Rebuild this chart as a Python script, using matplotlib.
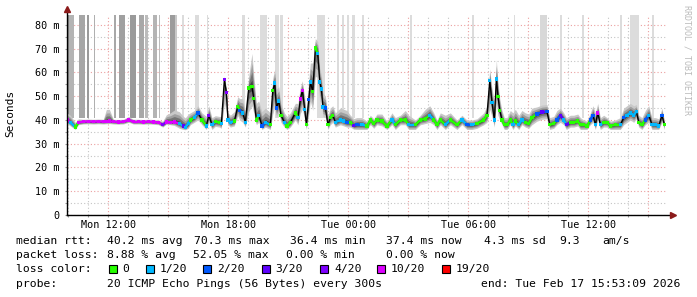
import matplotlib
matplotlib.use('Agg')
import matplotlib.pyplot as plt
import matplotlib.dates as mdates
from matplotlib.ticker import MultipleLocator, FuncFormatter
from matplotlib.patches import Rectangle
from matplotlib.collections import LineCollection
import numpy as np
import pandas as pd

# sample times, hours after Mon 2026-02-16 00:00
hours = [9.93, 10.1, 10.35, 10.5, 10.75, 11.0, 11.25, 11.5, 11.75, 11.9, 12.05, 12.25, 12.5, 12.75,
         13.02, 13.25, 13.5, 13.75, 14.0, 14.25, 14.5, 14.72, 14.9, 15.1, 15.3, 15.55, 15.75, 15.85,
         16.0, 16.1, 16.3, 16.48, 16.68, 16.9, 17.02, 17.18, 17.35, 17.55, 17.65, 17.8, 17.9, 17.98,
         18.1, 18.3, 18.47, 18.57, 18.72, 18.85, 19.02, 19.18, 19.27, 19.4, 19.52, 19.68, 19.85,
         20.1, 20.22, 20.32, 20.4, 20.52, 20.63, 20.8, 20.93, 21.1, 21.35, 21.48, 21.6, 21.7, 21.82,
         21.9, 22.02, 22.1, 22.22, 22.35, 22.47, 22.57, 22.65, 22.73, 22.85, 22.98, 23.1, 23.22,
         23.35, 23.6, 23.77, 23.93,
         24.1, 24.27, 24.43, 24.68, 24.93, 25.1, 25.27, 25.43, 25.68, 25.93, 26.18, 26.35, 26.6,
         26.85, 27.02, 27.35, 27.6, 27.85, 28.07, 28.27, 28.43, 28.6, 28.85, 29.1, 29.43, 29.68,
         29.93, 30.18, 30.43, 30.77, 30.93, 31.07, 31.18, 31.3, 31.4, 31.48, 31.57, 31.68, 31.8,
         31.93, 32.1, 32.23, 32.35, 32.52, 32.68, 32.85, 33.02, 33.18, 33.43, 33.68, 33.93, 34.07,
         34.27, 34.43, 34.6, 34.77, 34.9, 35.1, 35.27, 35.47, 35.6, 35.77, 35.93, 36.1, 36.23,
         36.35, 36.47, 36.6, 36.77, 36.93, 37.1, 37.35, 37.6, 37.77, 37.93, 38.1, 38.27, 38.4,
         38.52, 38.68, 38.85, 39.02, 39.18, 39.35, 39.52, 39.68, 39.8]

median_ms = [40.0, 39.0, 37.0, 39.0, 39.3, 39.4, 39.3, 39.4, 39.3, 39.4, 39.5, 39.3, 39.2, 39.3,
             40.0, 39.3, 39.3, 39.2, 39.3, 39.2, 39.0, 38.0, 39.2, 39.0, 39.2, 38.5, 37.5, 36.9,
             38.5, 40.0, 41.0, 43.0, 40.0, 37.5, 42.0, 38.0, 39.3, 39.0, 38.5, 57.0, 51.5, 40.0,
             39.0, 39.5, 45.8, 44.0, 43.0, 39.0, 53.5, 54.0, 49.0, 40.0, 42.0, 37.5, 39.0,
             38.0, 52.5, 55.5, 45.0, 48.0, 42.0, 39.0, 37.5, 39.0, 43.0, 41.0, 48.8, 52.5, 44.3,
             38.0, 48.5, 56.0, 52.0, 70.3, 68.0, 56.0, 53.0, 45.5, 45.0, 38.0, 41.0, 42.0,
             39.0, 40.0, 39.5, 39.0,
             39.0, 37.6, 38.0, 38.0, 37.5, 40.0, 38.5, 40.0, 39.5, 37.5, 40.0, 38.0, 40.0,
             40.0, 38.0, 38.0, 40.0, 40.5, 42.0, 40.0, 38.0, 40.0, 38.0, 40.0, 38.0, 40.0,
             38.0, 38.0, 38.5, 40.0, 42.0, 56.5, 47.4, 40.0, 57.3, 50.0, 44.0, 40.0, 38.0,
             38.0, 40.0, 38.0, 39.5, 38.0, 40.0, 39.0, 38.5, 41.0, 42.5, 43.3, 43.5, 38.0,
             38.5, 40.0, 42.0, 40.0, 38.0, 39.0, 39.0, 39.5, 38.0, 38.0, 37.5, 40.0, 42.0,
             38.0, 43.0, 38.0, 39.0, 39.0, 37.5, 38.0, 38.0, 41.0, 42.0, 43.0, 42.0, 43.5,
             39.0, 38.0, 40.0, 42.0, 38.0, 38.0, 37.5, 42.0, 38.0]

# lost pings out of 20
loss = [10, 1, 0, 10, 10, 10, 10, 10, 10, 10, 10, 10, 10, 10,
        10, 10, 10, 10, 10, 10, 10, 4, 10, 10, 10, 1, 3, 1,
        1, 0, 1, 2, 0, 1, 4, 1, 0, 0, 1, 4, 4, 1,
        1, 0, 0, 2, 1, 1, 0, 0, 0, 0, 1, 2, 1,
        0, 0, 1, 2, 1, 0, 1, 0, 0, 0, 1, 10, 10, 1,
        0, 2, 1, 0, 0, 1, 1, 1, 1, 2, 0, 0, 0,
        1, 1, 1, 2,
        0, 3, 2, 1, 0, 0, 0, 0, 0, 0, 1, 0, 0,
        0, 1, 0, 0, 0, 1, 0, 0, 0, 1, 0, 0, 1,
        2, 1, 0, 0, 0, 1, 1, 1, 1, 0, 0, 0, 0,
        0, 0, 1, 0, 1, 1, 0, 0, 0, 2, 3, 2, 0,
        0, 2, 3, 1, 3, 0, 0, 0, 0, 0, 0, 2, 2,
        1, 10, 1, 0, 0, 0, 0, 1, 2, 1, 1, 1, 1,
        0, 0, 2, 1, 1, 1, 1, 2, 0]

# smoke spread above / below the median (ms)
smoke_up = [3, 3, 2, 1.5, 1, 1, 1, 1, 1, 5, 5, 1, 1, 1,
            1.5, 1, 1, 1, 1, 1, 1, 1.5, 3, 4, 5, 5, 4, 4,
            4, 3, 3, 3, 3, 4, 4, 3, 2.5, 2.5, 3, 1.5, 2, 3,
            3, 4, 4, 5, 6, 5, 5, 14, 10, 7, 6, 6, 6,
            5, 5, 6, 8, 6, 5, 4, 4, 4, 4, 6, 5, 4, 5,
            5, 8, 8, 12, 4, 5, 6, 6, 6, 5, 4, 4, 4,
            4, 5, 5, 5,
            3, 3, 3, 3, 2, 2, 2, 2.5, 3, 2, 3, 3, 2,
            4, 4, 2, 2, 4, 4, 3, 2, 3, 4, 3, 2, 2,
            2, 2, 2, 3, 4, 5, 6, 8, 8, 6, 5, 4, 3,
            3, 4, 5, 5, 4, 4, 4, 4, 4, 3, 3, 3, 3,
            3, 4, 3, 3, 3, 3, 3, 3, 3, 2, 2, 3, 4,
            5, 4, 3, 3, 2, 2, 2, 3, 4, 4, 4, 4, 3,
            3, 3, 4, 4, 3, 3, 3, 3, 2]

smoke_dn = [1.5, 1.5, 1, 1, 1, 1, 1, 1, 1, 1, 1, 1, 1, 1,
            1, 1, 1, 1, 1, 1, 1, 1, 1, 1, 1.5, 2, 1.5, 1,
            2, 2, 2, 3, 2, 1.5, 3, 2, 2, 2, 2, 10, 8, 2,
            2, 2, 4, 4, 4, 2, 10, 8, 6, 2, 3, 1.5, 2,
            2, 10, 10, 4, 5, 3, 2, 1.5, 2, 3, 3, 6, 8, 4,
            2, 6, 8, 8, 12, 10, 8, 6, 4, 4, 2, 3, 3,
            2, 2, 2, 2,
            2, 1.5, 2, 2, 1.5, 2, 2, 2, 2, 1.5, 2, 2, 2,
            2, 2, 2, 2, 2, 3, 2, 2, 2, 2, 2, 2, 2,
            2, 2, 2, 2, 3, 12, 6, 3, 10, 8, 4, 2, 2,
            2, 2, 2, 2, 2, 2, 2, 2, 3, 3, 3, 3, 2,
            2, 2, 3, 2, 2, 2, 2, 2, 2, 2, 1.5, 2, 3,
            2, 3, 2, 2, 2, 1.5, 2, 2, 3, 3, 3, 3, 3,
            2, 2, 2, 3, 2, 2, 1.5, 3, 2]

# tall packet loss bands (hours) and their gray
bar_start = [9.88, 10.02, 10.55, 10.93, 11.27, 12.27, 12.52, 13.1, 13.55, 13.85, 14.22, 14.52,
             15.07, 15.35, 15.68, 16.35, 16.95, 18.68, 19.57, 20.35, 20.6, 22.43, 23.43, 23.68,
             23.93, 24.18, 24.68, 27.07, 30.18, 32.27, 33.57, 34.6, 35.68, 37.6, 38.1, 39.18]
bar_end = [10.02, 10.27, 10.85, 11.05, 11.35, 12.4, 12.85, 13.4, 13.8, 13.97, 14.43, 14.6,
           15.35, 15.45, 15.8, 16.52, 17.0, 18.85, 19.93, 20.52, 20.73, 22.85, 23.52, 23.8,
           24.05, 24.35, 24.77, 27.18, 30.3, 32.35, 33.93, 34.68, 35.77, 37.68, 38.52, 39.3]
bar_gray = ['#8c8c8c', '#b4b4b4', '#a6a6a6', '#9a9a9a', '#b0b0b0', '#a8a8a8', '#a0a0a0',
            '#9a9a9a', '#a8a8a8', '#bcbcbc', '#b4b4b4', '#bcbcbc', '#9c9c9c', '#c8c8c8',
            '#dcdcdc', '#dcdcdc', '#dcdcdc', '#dcdcdc', '#dcdcdc', '#dcdcdc', '#dcdcdc',
            '#dcdcdc', '#dcdcdc', '#dcdcdc', '#dcdcdc', '#dcdcdc', '#dcdcdc', '#dcdcdc',
            '#dcdcdc', '#dcdcdc', '#d8d8d8', '#dcdcdc', '#dcdcdc', '#dcdcdc', '#dcdcdc',
            '#dcdcdc']

loss_steps = [0, 1, 2, 3, 4, 10, 19]
loss_labels = ['0', '1/20', '2/20', '3/20', '4/20', '10/20', '19/20']
loss_colors = ['#26ff00', '#00b8ff', '#0059ff', '#5e00ff', '#7e00ff', '#dd00ff', '#ff0000']

plt.rcParams['font.family'] = 'DejaVu Sans Mono'

W, H = 697, 297
fig = plt.figure(figsize=(W / 100, H / 100), dpi=100)
fig.patch.set_facecolor('white')
ax = fig.add_axes([67 / W, 1 - 215 / H, 600 / W, 200 / H])

base = pd.Timestamp('2026-02-16')
t = base + pd.to_timedelta(hours, unit='h')
tn = mdates.date2num(t.to_pydatetime())
med = np.array(median_ms)
up = np.array(smoke_up)
dn = np.array(smoke_dn)
ytop = 84.2

# loss bands
for s, e, g in zip(bar_start, bar_end, bar_gray):
    ts = base + pd.Timedelta(hours=s)
    te = base + pd.Timedelta(hours=e)
    ax.fill_between([ts, te], 41, ytop, color=g, lw=0, zorder=1)

# smoke
for f, c in zip([1.0, 0.7, 0.45, 0.2], ['#c8c8c8', '#a0a0a0', '#747474', '#444444']):
    ax.fill_between(t, med - dn * f, med + up * f, color=c, lw=0, zorder=2)

# median: thin black line, thick coloured where it runs level
cmap = dict(zip(loss_steps, loss_colors))
ax.plot(t, med, color='black', lw=0.9, zorder=3)
segs, cols = [], []
for i in range(len(tn) - 1):
    if abs(med[i + 1] - med[i]) <= 2.5:
        segs.append([(tn[i], med[i]), (tn[i + 1], med[i + 1])])
        cols.append(cmap[loss[i]])
ax.add_collection(LineCollection(segs, colors=cols, linewidths=1.7, zorder=4, capstyle='butt'))
ax.scatter(t, med, c=[cmap[l] for l in loss], marker='s', s=6, lw=0, zorder=5)

ax.set_xlim(base + pd.Timedelta(hours=9, minutes=56), base + pd.Timedelta(hours=39, minutes=56))
ax.set_ylim(0, ytop)

ax.xaxis.set_major_locator(mdates.HourLocator(byhour=range(0, 24, 3)))
ax.xaxis.set_minor_locator(mdates.HourLocator())


def xfmt(x, pos):
    d = mdates.num2date(x)
    return d.strftime('%a %H:%M') if d.hour % 6 == 0 else ''


ax.xaxis.set_major_formatter(FuncFormatter(xfmt))
ax.yaxis.set_major_locator(MultipleLocator(10))
ax.yaxis.set_minor_locator(MultipleLocator(5))
ax.yaxis.set_major_formatter(FuncFormatter(lambda v, p: '0' if v == 0 else '%d m' % v))

ax.set_axisbelow(True)
ax.grid(which='major', color='#eba0a0', ls=(0, (1, 2)), lw=0.8)
ax.grid(which='minor', color='#c4c4c4', ls=(0, (1, 2)), lw=0.8)
for sp in ax.spines.values():
    sp.set_visible(False)
ax.tick_params(which='both', length=1.5, width=0.8, color='#999999', labelsize=7.3)
ax.tick_params(axis='y', pad=3.6)
ax.tick_params(axis='x', pad=2.2)

# axis lines with arrows
ax.plot([0, 0], [0, 1.025], transform=ax.transAxes, color='black', lw=1, clip_on=False, zorder=6)
ax.plot([0, 1.008], [0, 0], transform=ax.transAxes, color='black', lw=1, clip_on=False, zorder=6)
ax.plot([0], [1.03], transform=ax.transAxes, marker='^', ms=4, color='#8b1a1a', clip_on=False, zorder=7)
ax.plot([1.01], [0], transform=ax.transAxes, marker='>', ms=4, color='#8b1a1a', clip_on=False, zorder=7)

fig.text(10 / W, 1 - 113 / H, 'Seconds', rotation=90, ha='center', va='center', fontsize=8)
fig.text(687 / W, 1 - 60 / H, 'RRDTOOL / TOBI OETIKER', rotation=270, ha='center', va='center',
         fontsize=6, color='#bbbbbb')


def row(y, chunks):
    for x, s in chunks:
        fig.text(x / W, 1 - y / H, s, ha='left', va='center', fontsize=8.2)


row(241.3, [(16, 'median rtt:'), (107.3, '40.2 ms avg'), (194, '70.3 ms max'), (290, '36.4 ms min'),
            (386.3, '37.4 ms now'), (484, '4.3 ms sd'), (559, '9.3'), (602, 'am/s')])
row(255.3, [(16, 'packet loss:'), (107.3, '8.88 % avg'), (193.3, '52.05 % max'), (286, '0.00 % min'),
            (386, '0.00 % now')])
row(269.3, [(16, 'loss color:')])
box_x = [108.7, 145.7, 203.3, 261.7, 320, 377, 442]
for bx, lab, col in zip(box_x, loss_labels, loss_colors):
    fig.patches.append(Rectangle((bx / W, 1 - 273.3 / H), 8 / W, 8 / H, transform=fig.transFigure,
                                 facecolor=col, edgecolor='black', lw=0.8))
    fig.text((bx + 14) / W, 1 - 269.3 / H, lab, ha='left', va='center', fontsize=8.2)
row(283.7, [(16, 'probe:'), (107.3, '20 ICMP Echo Pings (56 Bytes) every 300s')])
fig.text(680 / W, 1 - 283.7 / H, 'end: Tue Feb 17 15:53:09 2026', ha='right', va='center', fontsize=8.2)

fig.savefig('out.png', dpi=100)
